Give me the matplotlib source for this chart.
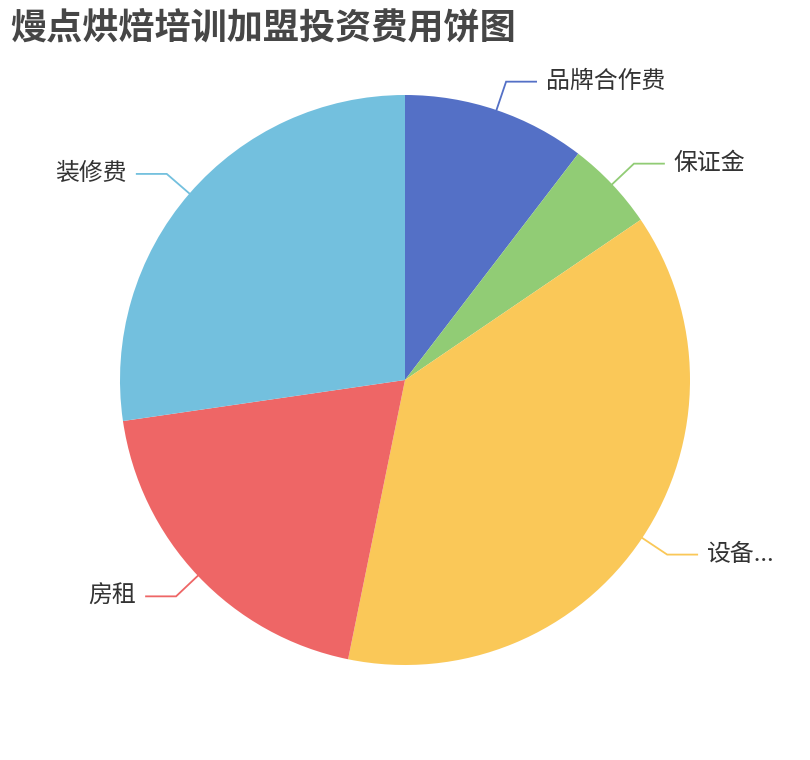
import numpy as np
import matplotlib
matplotlib.use('Agg')
from matplotlib import pyplot as plt

plt.rcParams['font.family'] = ['Noto Sans CJK SC', 'DejaVu Sans']

title = '熳点烘焙培训加盟投资费用饼图'
labels = ['品牌合作费', '保证金', '设备...', '房租', '装修费']
values = [10.4, 5.1, 37.7, 19.5, 27.3]
colors = ['#5470c6', '#91cc75', '#fac858', '#ee6666', '#73c0de']

W, H = 810, 760
fig = plt.figure(figsize=(W / 100, H / 100), dpi=100)
ax = fig.add_axes([0, 0, 1, 1])

cx, cy, r = 405, 380, 285
wedges, _ = ax.pie(values, colors=colors, startangle=90, counterclock=False,
                   center=(cx, cy), radius=r, frame=True,
                   wedgeprops=dict(linewidth=0))
ax.set_xlim(0, W)
ax.set_ylim(0, H)
ax.set_aspect('equal')
ax.axis('off')

# label lines: radial segment then horizontal segment
for w, lab, col in zip(wedges, labels, colors):
    mid = np.deg2rad((w.theta1 + w.theta2) / 2)
    x1, y1 = cx + r * np.cos(mid), cy + r * np.sin(mid)
    x2, y2 = cx + (r + 30) * np.cos(mid), cy + (r + 30) * np.sin(mid)
    side = 1 if np.cos(mid) >= 0 else -1
    x3 = x2 + side * 30
    ax.plot([x1, x2, x3], [y1, y2, y2], color=col, lw=1.3, solid_joinstyle='miter')
    ax.text(x3 + side * 10, y2, lab, ha='left' if side > 0 else 'right',
            va='center', fontsize=17.2, color='#333333')

fig.text(10 / W, 1 - 28 / H, title, fontsize=26, fontweight='bold',
         color='#464646', ha='left', va='center')

fig.savefig('out.png', dpi=100, facecolor='white')
